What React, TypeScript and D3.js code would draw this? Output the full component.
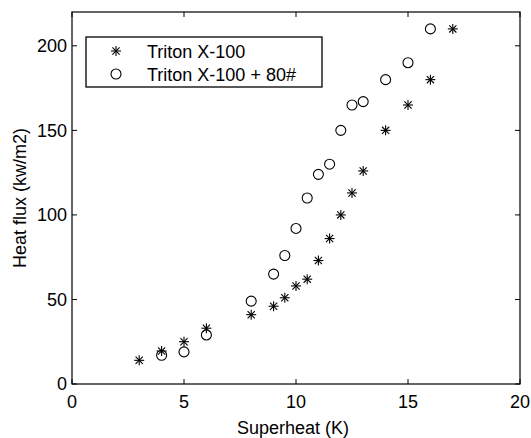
import React from "react";
import * as d3 from "d3";

const starX = [3, 4, 5, 6, 8, 9, 9.5, 10, 10.5, 11, 11.5, 12, 12.5, 13, 14, 15, 16, 17];
const starY = [14, 19.5, 25, 33, 41, 46, 51, 58, 62, 73, 86, 100, 113, 126, 150, 165, 180, 210];
const circX = [4, 5, 6, 8, 9, 9.5, 10, 10.5, 11, 11.5, 12, 12.5, 13, 14, 15, 16];
const circY = [17, 19, 29, 49, 65, 76, 92, 110, 124, 130, 150, 165, 167, 180, 190, 210];
const xTicks = [0, 5, 10, 15, 20];
const yTicks = [0, 50, 100, 150, 200];
const seriesNames = ["Triton X-100", "Triton X-100 + 80#"];

const W = 531;
const H = 438;
const L = 72, R = 520, T = 12, B = 384;
const FONT = "'Liberation Sans', Arial, Helvetica, sans-serif";
const FS = 18;

function Star({ cx, cy, s }: { cx: number; cy: number; s: number }) {
  const d = s * 0.72;
  return (
    <g stroke="#000" strokeWidth={1.1}>
      <line x1={cx - s} y1={cy} x2={cx + s} y2={cy} />
      <line x1={cx} y1={cy - s} x2={cx} y2={cy + s} />
      <line x1={cx - d} y1={cy - d} x2={cx + d} y2={cy + d} />
      <line x1={cx - d} y1={cy + d} x2={cx + d} y2={cy - d} />
    </g>
  );
}

export default function App() {
  const x = d3.scaleLinear().domain([0, 20]).range([L, R]);
  const y = d3.scaleLinear().domain([0, 220]).range([B, T]);
  const tl = 5;
  return (
    <svg
      width={W}
      height={H}
      style={{ position: "absolute", left: 0, top: 0, background: "#fff" }}
      fontFamily={FONT}
    >
      <rect x={0} y={0} width={W} height={H} fill="#fff" />
      {xTicks.map((t) => (
        <g key={"x" + t}>
          <line x1={x(t)} x2={x(t)} y1={B} y2={B - tl} stroke="#000" />
          <line x1={x(t)} x2={x(t)} y1={T} y2={T + tl} stroke="#000" />
          <text x={x(t)} y={407.5} fontSize={FS} textAnchor="middle" fill="#000">
            {t}
          </text>
        </g>
      ))}
      {yTicks.map((t) => (
        <g key={"y" + t}>
          <line x1={L} x2={L + tl} y1={y(t)} y2={y(t)} stroke="#000" />
          <line x1={R} x2={R - tl} y1={y(t)} y2={y(t)} stroke="#000" />
          <text x={L - 5} y={y(t)} dy="0.36em" fontSize={FS} textAnchor="end" fill="#000">
            {t}
          </text>
        </g>
      ))}
      <rect x={L} y={T} width={R - L} height={B - T} fill="none" stroke="#000" strokeWidth={1.2} />
      <text x={293} y={434} fontSize={FS} textAnchor="middle" fill="#000">
        Superheat (K)
      </text>
      <text
        transform={`translate(26,${(T + B) / 2}) rotate(-90)`}
        fontSize={FS}
        textAnchor="middle"
        fill="#000"
      >
        Heat flux (kw/m2)
      </text>
      {circX.map((v, i) => (
        <circle key={"c" + i} cx={x(v)} cy={y(circY[i])} r={5} fill="none" stroke="#000" strokeWidth={1.1} />
      ))}
      {starX.map((v, i) => (
        <Star key={"s" + i} cx={x(v)} cy={y(starY[i])} s={5} />
      ))}
      <rect x={86} y={37} width={236} height={50} fill="#fff" stroke="#000" strokeWidth={1.3} />
      <Star cx={116} cy={51} s={5} />
      <circle cx={116} cy={74} r={5} fill="none" stroke="#000" strokeWidth={1.1} />
      <text x={147} y={57.5} fontSize={FS} fill="#000">
        {seriesNames[0]}
      </text>
      <text x={147} y={80.5} fontSize={FS} fill="#000">
        {seriesNames[1]}
      </text>
    </svg>
  );
}
